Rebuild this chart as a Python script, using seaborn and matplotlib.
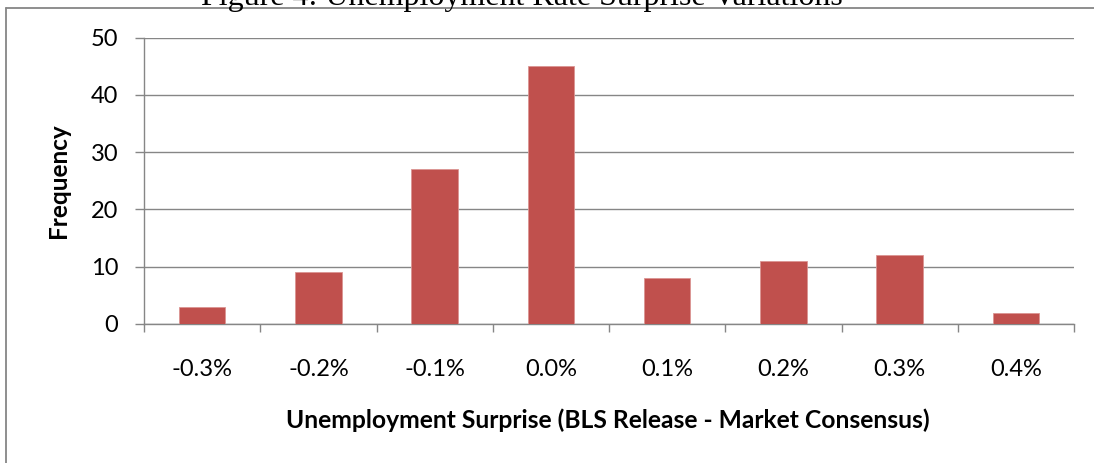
import matplotlib
matplotlib.use("Agg")
import matplotlib.pyplot as plt
from matplotlib.lines import Line2D
import numpy as np
import seaborn as sns

# Frequency of unemployment-rate surprises by size
categories = ["-0.3%", "-0.2%", "-0.1%", "0.0%", "0.1%", "0.2%", "0.3%", "0.4%"]
frequency = [3, 9, 27, 45, 8, 11, 12, 2]
y_ticks = [0, 10, 20, 30, 40, 50]

title = "Figure 4: Unemployment Rate Surprise Variations"
x_label = "Unemployment Surprise (BLS Release - Market Consensus)"
y_label = "Frequency"

BAR = "#C0504D"
GREY = "#868686"

sns.set_theme(style="white")
plt.rcParams["font.family"] = ["Lato", "DejaVu Sans"]

W, H = 1094, 463
fig = plt.figure(figsize=(W / 100, H / 100), dpi=100)
fig.patch.set_facecolor("white")

ax = fig.add_axes([144 / W, 1 - 324 / H, 930 / W, 286.5 / H])
sns.barplot(x=categories, y=frequency, color=BAR, saturation=1, width=0.4,
            edgecolor="#DB9593", linewidth=0.6, ax=ax, zorder=3)

ax.set_xlim(-0.5, len(categories) - 0.5)
ax.set_ylim(y_ticks[0], y_ticks[-1])
ax.set_yticks(y_ticks)
ax.set_axisbelow(True)
ax.yaxis.grid(True, color=GREY, linewidth=1.0)
ax.xaxis.grid(False)

for side in ("top", "right"):
    ax.spines[side].set_visible(False)
for side in ("left", "bottom"):
    ax.spines[side].set_color(GREY)
    ax.spines[side].set_linewidth(1.0)

# category labels sit centred; tick marks fall on the category boundaries
ax.set_xticks(np.arange(len(categories)))
ax.set_xticklabels(categories)
ax.set_xticks(np.arange(len(categories) + 1) - 0.5, minor=True)
ax.tick_params(axis="x", which="major", length=0, pad=25, labelsize=17,
               labelcolor="black")
ax.tick_params(axis="x", which="minor", bottom=True, length=6, width=1.0,
               color=GREY, direction="out")
ax.tick_params(axis="y", which="major", left=True, length=6.5, width=1.0,
               color=GREY, direction="out", pad=12, labelsize=17,
               labelcolor="black")

ax.set_xlabel(x_label, fontsize=17.7, fontweight="bold", color="black", va="center")
ax.xaxis.set_label_coords(0.499, -0.335)
ax.set_ylabel(y_label, fontsize=17.5, fontweight="bold", color="black", va="center")
ax.yaxis.set_label_coords(-86 / 930, 0.5)

# outer frame along the top and left edges
fy = 1 - 8 / H
fx = 6 / W
fig.add_artist(Line2D([fx, 1], [fy, fy], transform=fig.transFigure,
                      color=GREY, linewidth=1.3))
fig.add_artist(Line2D([fx, fx], [0, fy], transform=fig.transFigure,
                      color=GREY, linewidth=1.3))

fig.text(521.5 / W, 1 - 5.5 / H, title, ha="center", va="baseline",
         fontsize=23, family=["Liberation Serif"], color="black")

fig.savefig("out.png", dpi=100, facecolor="white")
